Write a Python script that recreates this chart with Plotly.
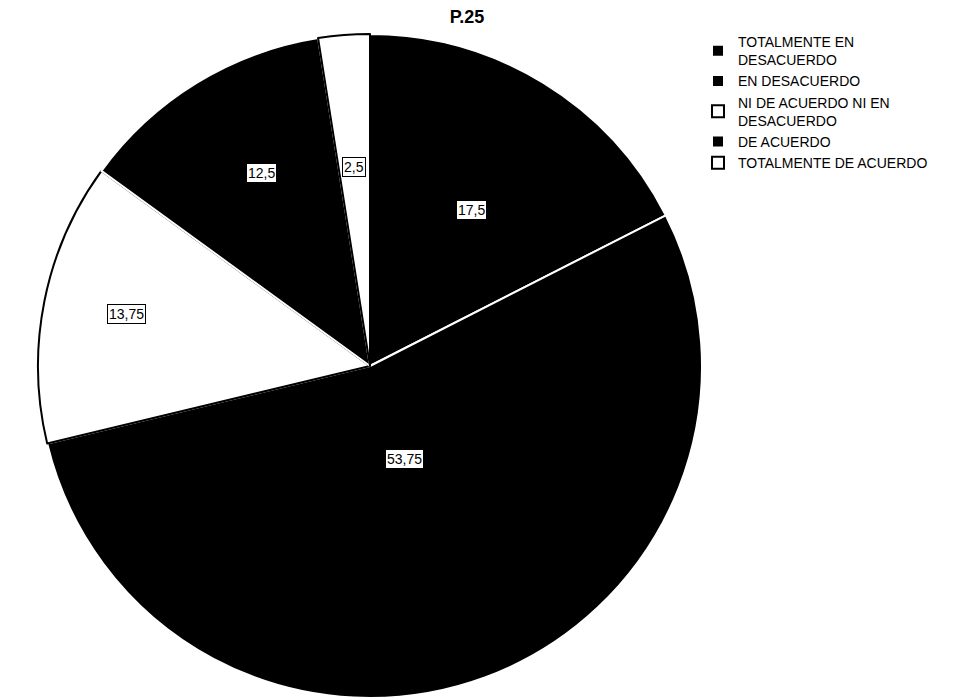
import math
import plotly.graph_objects as go

# Survey answers for question P.25 (percentages)
categories = [
    "TOTALMENTE EN<br>DESACUERDO",
    "EN DESACUERDO",
    "NI DE ACUERDO NI EN<br>DESACUERDO",
    "DE ACUERDO",
    "TOTALMENTE DE ACUERDO",
]
values = [17.5, 53.75, 13.75, 12.5, 2.5]

slice_colors = ["#000000", "#000000", "#ffffff", "#000000", "#ffffff"]
edge_colors = ["#ffffff", "#ffffff", "#000000", "#ffffff", "#000000"]
# distance of each value box from the pie centre, in pixels
label_radius_px = [195, 99, 268, 238, 210]

W, H = 968, 698
CX, CY, R = 370, 366, 332  # pie centre and radius in pixels

fig = go.Figure()
fig.add_trace(go.Pie(
    labels=categories,
    values=values,
    sort=False,
    direction="clockwise",
    rotation=0,
    marker=dict(colors=slice_colors, line=dict(color=edge_colors, width=2)),
    textinfo="none",
    hoverinfo="label+value",
    domain=dict(x=[(CX - R) / W, (CX + R) / W], y=[1 - (CY + R) / H, 1 - (CY - R) / H]),
))

# boxed value labels placed at the middle angle of each slice
total = sum(values)
cum = 0.0
for v, r in zip(values, label_radius_px):
    mid = (cum + v / 2) / total * 2 * math.pi
    cum += v
    px = CX + r * math.sin(mid)
    py = CY - r * math.cos(mid)
    txt = f"{v:g}".replace(".", ",")
    fig.add_annotation(
        x=px / W, y=1 - py / H, xref="paper", yref="paper",
        text=txt, showarrow=False,
        font=dict(family="Liberation Sans, Arial", size=14, color="#000000"),
        bgcolor="#ffffff", bordercolor="#000000", borderwidth=1, borderpad=1,
    )

fig.update_layout(
    width=W, height=H,
    margin=dict(l=0, r=0, t=0, b=0),
    paper_bgcolor="#ffffff",
    plot_bgcolor="#ffffff",
    title=dict(
        text="<b>P.25</b>", x=467 / W, y=1 - 17 / H, xanchor="center", yanchor="middle",
        font=dict(family="Liberation Sans, Arial", size=18, color="#000000"),
    ),
    legend=dict(
        x=698 / W, y=1 - 26 / H, xanchor="left", yanchor="top",
        font=dict(family="Liberation Sans, Arial", size=14, color="#000000"),
        itemwidth=30, tracegroupgap=0,
        bgcolor="rgba(0,0,0,0)",
    ),
    showlegend=True,
)

fig.write_html("out.html")
